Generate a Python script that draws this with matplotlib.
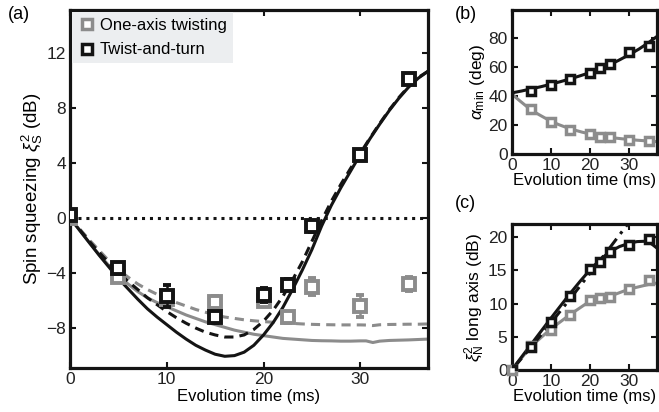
import numpy as np
import matplotlib
matplotlib.use("Agg")
import matplotlib.pyplot as plt
from matplotlib.lines import Line2D

plt.rcParams['font.family'] = ['Liberation Sans', 'DejaVu Sans']
plt.rcParams['mathtext.fontset'] = 'custom'
plt.rcParams['mathtext.rm'] = 'Liberation Sans'
plt.rcParams['mathtext.it'] = 'Liberation Sans:italic'
plt.rcParams['font.size'] = 12

BLACK = '#141414'
GRAY = '#8c8c8c'

# ---------------- Panel (a) data ----------------
t_pts = [0, 5, 10, 15, 20, 22.5, 25, 30, 35]
tt_a = [0.2, -3.65, -5.7, -7.2, -5.6, -4.85, -0.6, 4.6, 10.1]
tt_a_err = [0.3, 0.4, 0.8, 0.4, 0.5, 0.4, 0.4, 0.3, 0.3]
oat_a = [0.0, -4.3, -5.9, -6.1, -6.0, -7.2, -5.0, -6.4, -4.8]
oat_a_err = [0.2, 0.3, 0.4, 0.4, 0.4, 0.4, 0.6, 0.8, 0.5]

t_th = list(range(0, 38))
tt_solid = [0, -0.9, -1.8, -2.7, -3.55, -4.4, -5.15, -5.9, -6.6, -7.2,
            -7.75, -8.3, -8.8, -9.25, -9.6, -9.9, -10.05, -10.0, -9.75, -9.25,
            -8.5, -7.6, -6.5, -5.2, -3.8, -2.3, -0.6, 0.9, 2.2, 3.4,
            4.6, 5.75, 6.8, 7.8, 8.7, 9.5, 10.15, 10.65]
tt_dash = [0, -0.85, -1.7, -2.5, -3.25, -3.95, -4.6, -5.2, -5.8, -6.3,
           -6.8, -7.25, -7.65, -8.0, -8.3, -8.5, -8.65, -8.65, -8.5, -8.1,
           -7.5, -6.7, -5.7, -4.5, -3.2, -1.7, -0.2, 1.2, 2.45, 3.6,
           4.7, 5.8, 6.85, 7.85, 8.75, 9.55, 10.2, 10.65]

t_oat = list(range(0, 31)) + [30.6, 31.3, 32, 33, 34, 35, 36, 37]
oat_solid = [0, -0.9, -1.8, -2.65, -3.45, -4.2, -4.8, -5.35, -5.8, -6.15,
             -6.45, -6.75, -7.05, -7.3, -7.55, -7.75, -7.95, -8.15, -8.3, -8.45,
             -8.55, -8.65, -8.75, -8.8, -8.85, -8.9, -8.92, -8.93, -8.95, -8.95,
             -8.93, -8.93, -9.05, -8.95, -8.9, -8.88, -8.86, -8.83, -8.8]
oat_dash = [0, -0.8, -1.6, -2.35, -3.1, -3.75, -4.3, -4.8, -5.2, -5.55,
            -5.85, -6.15, -6.4, -6.65, -6.85, -7.05, -7.2, -7.3, -7.4, -7.47,
            -7.53, -7.58, -7.62, -7.66, -7.7, -7.73, -7.75, -7.76, -7.77, -7.77,
            -7.77, -7.78, -7.82, -7.76, -7.74, -7.73, -7.72, -7.72, -7.7]

# ---------------- Panel (b) data ----------------
t_b = [5, 10, 15, 20, 22.5, 25, 30, 35]
tt_b = [43.4, 47.6, 51.6, 55.7, 59.0, 62.0, 70.2, 74.3]
oat_b = [30.7, 21.8, 16.2, 13.7, 11.6, 11.8, 9.8, 8.6]
t_b_tt = [0, 2.5, 5, 7.5, 10, 12.5, 15, 17.5, 20, 22.5, 25, 27.5, 30, 32.5, 35, 37]
tt_b_th = [42, 43.3, 44.8, 46.3, 48, 49.8, 51.7, 53.8, 56, 58.5, 61.3, 64.7, 68.3, 72.2, 76.7, 80.7]
t_b_oat = [0, 1, 2, 3, 4, 5, 6, 7, 8, 9, 10, 12, 14, 16, 18, 20, 22, 24, 26, 28, 30, 32, 34, 36, 37]
oat_b_th = [41.6, 39, 36.7, 34.5, 32.3, 30.3, 28.6, 27, 25.5, 24, 22.6, 20.2, 18.2, 16.5, 15,
            13.8, 12.7, 11.8, 11.1, 10.5, 10, 9.5, 9.1, 8.7, 8.5]

# ---------------- Panel (c) data ----------------
t_c = [0, 5, 10, 15, 20, 22.5, 25, 30, 35]
tt_c = [0, 3.5, 7.3, 11.1, 15.15, 16.3, 17.8, 18.8, 19.8]
oat_c = [0, 3.6, 6.1, 8.3, 10.6, 10.8, 11.0, 12.2, 13.6]
t_c_th = [0, 5, 10, 15, 17.5, 20, 22.5, 25, 27.5, 30, 32, 34, 35.5, 37]
tt_c_th = [0, 3.9, 7.8, 11.6, 13.4, 15.1, 16.6, 17.8, 18.6, 19.1, 19.35, 19.4, 19.1, 18.4]
t_c_lin = [0, 5, 10, 15, 20, 25, 30]
tt_c_lin = [0, 3.5, 7.1, 10.8, 14.6, 18.4, 22.3]
t_c_oat = [0, 5, 10, 15, 20, 22.5, 25, 30, 35, 37]
oat_c_th = [0, 3.6, 6.2, 8.4, 10.4, 10.8, 11.1, 12.2, 12.9, 13.1]

fig = plt.figure(figsize=(6.59, 4.12), dpi=100)

def style(ax):
    for s in ax.spines.values():
        s.set_linewidth(2.3)
        s.set_color(BLACK)
    ax.tick_params(direction='in', top=True, right=True, length=4, width=1.5,
                   labelsize=12.5, pad=3, colors=BLACK, labelcolor='#222222')

# ---- (a)
axa = fig.add_axes([0.1062, 0.1068, 0.5433, 0.869])
style(axa)
axa.axhline(0, color=BLACK, ls=(0, (1, 1.6)), lw=2.2, zorder=1)
axa.plot(t_oat, oat_solid, color=GRAY, lw=2.2, zorder=2)
axa.plot(t_oat, oat_dash, color=GRAY, lw=2.2, ls=(0, (3, 2)), zorder=2)
axa.plot(t_th, tt_solid, color=BLACK, lw=2.2, zorder=3)
axa.plot(t_th, tt_dash, color=BLACK, lw=2.2, ls=(0, (3, 2)), zorder=3)
axa.errorbar(t_pts, oat_a, yerr=oat_a_err, fmt='s', ms=8, mfc='white', mec=GRAY,
             mew=2.8, ecolor=GRAY, elinewidth=1.8, capsize=3, capthick=1.8, zorder=4)
axa.errorbar(t_pts, tt_a, yerr=tt_a_err, fmt='s', ms=8, mfc='white', mec=BLACK,
             mew=2.8, ecolor=BLACK, elinewidth=1.8, capsize=3, capthick=1.8, zorder=5)
axa.set_xlim(0, 37)
axa.set_ylim(-10.9, 15.1)
axa.set_xticks([0, 10, 20, 30])
axa.set_yticks([-8, -4, 0, 4, 8, 12])
axa.set_yticklabels(['\u22128', '\u22124', '0', '4', '8', '12'])
axa.set_xlabel('Evolution time (ms)', fontsize=12, labelpad=1)
axa.set_ylabel(r'Spin squeezing $\xi^2_{\rm S}$ (dB)', fontsize=13.5, labelpad=1)
handles = [Line2D([], [], ls='none', marker='s', ms=7, mfc='white', mec=GRAY, mew=2.5),
           Line2D([], [], ls='none', marker='s', ms=7, mfc='white', mec=BLACK, mew=2.5)]
leg = axa.legend(handles, ['One-axis twisting', 'Twist-and-turn'], loc='upper left',
                 frameon=True, fancybox=False, fontsize=12, handletextpad=0.3,
                 borderpad=0.35, borderaxespad=0.15, handlelength=1.0, labelspacing=0.55)
leg.get_frame().set_facecolor('#eceef0')
leg.get_frame().set_edgecolor('none')
leg.get_frame().set_alpha(1)
fig.text(0.012, 0.955, '(a)', fontsize=13)

# ---- (b)
axb = fig.add_axes([0.7765, 0.6262, 0.220, 0.3495])
style(axb)
axb.plot(t_b_oat, oat_b_th, color=GRAY, lw=2.2, zorder=2)
axb.plot(t_b_tt, tt_b_th, color=BLACK, lw=2.2, zorder=3)
axb.plot(t_b, oat_b, 's', ms=6, mfc='white', mec=GRAY, mew=2.5, zorder=4)
axb.plot(t_b, tt_b, 's', ms=6, mfc='white', mec=BLACK, mew=2.5, zorder=5)
axb.set_xlim(0, 37)
axb.set_ylim(0, 99)
axb.set_xticks([0, 10, 20, 30])
axb.set_yticks([0, 20, 40, 60, 80])
axb.set_xlabel('Evolution time (ms)', fontsize=12, labelpad=0)
axb.set_ylabel(r'$\alpha_{\rm min}$ (deg)', fontsize=12.5, labelpad=1)
fig.text(0.690, 0.955, '(b)', fontsize=13)

# ---- (c)
axc = fig.add_axes([0.7765, 0.1019, 0.220, 0.3544])
style(axc)
axc.plot(t_c_oat, oat_c_th, color=GRAY, lw=2.2, zorder=2)
axc.plot(t_c_lin, tt_c_lin, color=BLACK, lw=2.2, ls=(0, (5, 2, 1, 2)), zorder=3)
axc.plot(t_c_th, tt_c_th, color=BLACK, lw=2.2, zorder=3)
axc.plot(t_c, oat_c, 's', ms=6, mfc='white', mec=GRAY, mew=2.5, zorder=4, clip_on=False)
axc.plot(t_c, tt_c, 's', ms=6, mfc='white', mec=BLACK, mew=2.5, zorder=5)
axc.set_xlim(0, 37)
axc.set_ylim(0, 22)
axc.set_xticks([0, 10, 20, 30])
axc.set_yticks([0, 5, 10, 15, 20])
axc.set_xlabel('Evolution time (ms)', fontsize=12, labelpad=0)
axc.set_ylabel(r'$\xi^2_{\rm N}$ long axis (dB)', fontsize=12.5, labelpad=1)
fig.text(0.690, 0.495, '(c)', fontsize=13)

fig.savefig('out.png', dpi=100)
